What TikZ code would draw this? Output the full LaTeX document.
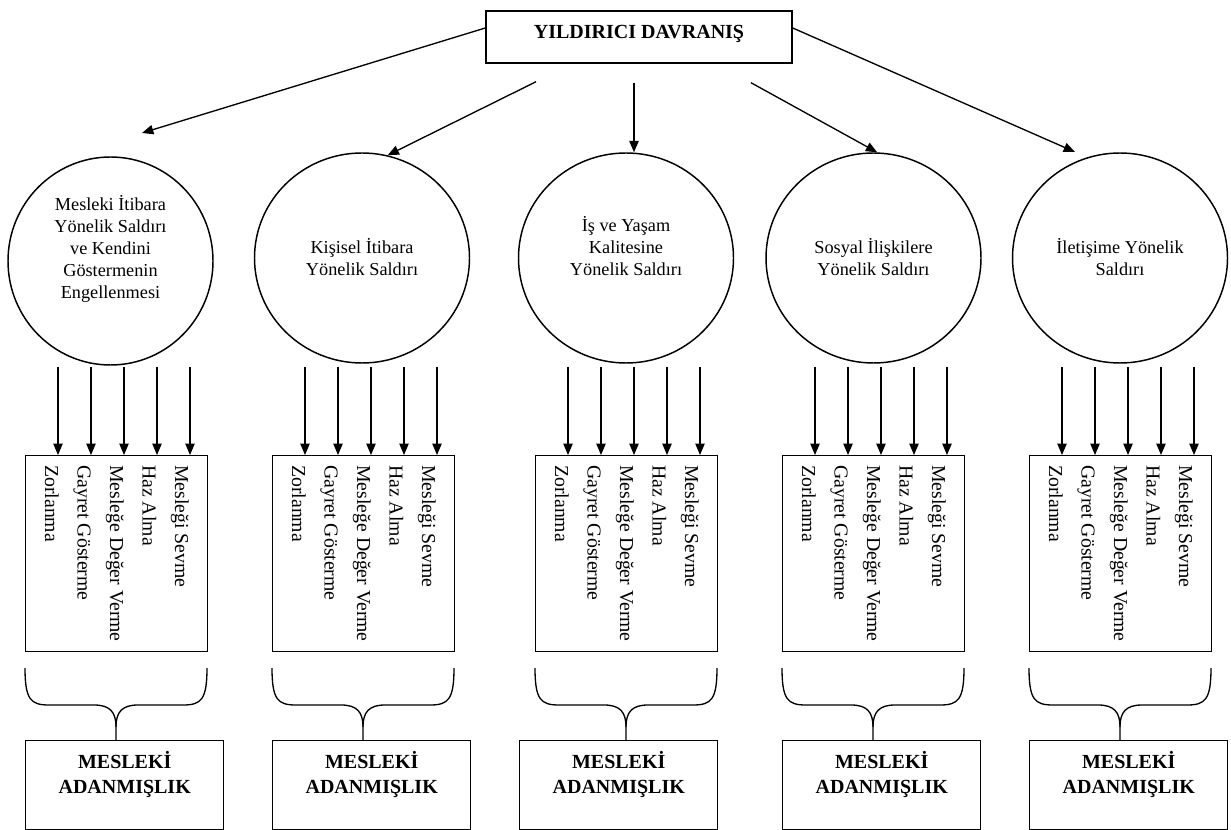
\documentclass[tikz,border=0pt]{standalone}
\usepackage{fontspec}
\setmainfont{Liberation Serif}
\usetikzlibrary{arrows.meta,calc,shapes.geometric}
\begin{document}
\begin{tikzpicture}[x=0.75pt,y=-0.75pt,
  arr/.style={-{Triangle[length=8.5pt,width=7pt]}, line width=0.8pt},
  tarr/.style={-{Triangle[length=8.5pt,width=7pt]}, line width=1pt},
  box/.style={draw, line width=1.1pt, inner sep=0pt},
  oval/.style={draw, ellipse, line width=1.1pt, inner sep=0pt},
  ctext/.style={align=center, font=\fontsize{13.7}{16.5}\selectfont, inner sep=0pt},
  vtext/.style={rotate=-90, anchor=base west, font=\fontsize{14.8}{17}\selectfont, inner sep=0pt},
  btext/.style={align=center, font=\fontsize{15}{18.75}\selectfont\bfseries, inner sep=0pt},
  bracestyle/.style={line width=1pt}]
\useasboundingbox (0,0) rectangle (1231,830);
\fill[white] (0,0) rectangle (1231,830);

% title
\node[box, minimum width=229.5pt, minimum height=39pt] (top) at (639,37) {};
\node[btext, anchor=base] (toptext) at (639,39) {YILDIRICI DAVRANIŞ};

% circles
\node[oval, minimum width=153.75pt, minimum height=156pt] (c1) at (110.5,261) {};
\node[oval, minimum width=161.25pt, minimum height=157.5pt] (c2) at (362,258) {};
\node[oval, minimum width=161.25pt, minimum height=157.5pt] (c3) at (626,258) {};
\node[oval, minimum width=161.25pt, minimum height=157.5pt] (c4) at (873.5,258) {};
\node[oval, minimum width=161.25pt, minimum height=157.5pt] (c5) at (1120,258) {};

\node[ctext] (t1) at (110.5,249) {Mesleki İtibara\\Yönelik Saldırı\\ve Kendini\\Göstermenin\\Engellenmesi};
\node[ctext] (t2) at (362,257) {Kişisel İtibara\\Yönelik Saldırı};
\node[ctext] (t3) at (626,246) {İş ve Yaşam\\Kalitesine\\Yönelik Saldırı};
\node[ctext] (t4) at (873.5,257) {Sosyal İlişkilere\\Yönelik Saldırı};
\node[ctext] (t5) at (1120,257) {İletişime Yönelik\\Saldırı};

% arrows from title
\coordinate (e1) at (142,133);
\coordinate (e5) at (1075,152);
\coordinate (a2) at ([xshift=-77.25pt,yshift=-13.5pt]top.south);
\coordinate (a3) at ([xshift=-3.75pt,yshift=-14.25pt]top.south);
\coordinate (a4) at ([xshift=84pt,yshift=-14.25pt]top.south);
\draw[tarr] ([yshift=6.75pt]top.west) -- (e1);
\draw[tarr] (a2) -- (c2.76);
\draw[tarr] (a3) -- (a3 |- c3.north);
\draw[tarr] (a4) -- (c4.88);
\draw[tarr] ([yshift=6.75pt]top.east) -- (e5);

% groups
\foreach \i/\L/\M in {1/25/25, 2/272/272, 3/535/519, 4/782/782, 5/1029/1029} {
  \node[box, minimum width=136.5pt, minimum height=147pt, anchor=north west] (b\i) at (\L,455) {};
  \foreach \t [count=\k from 0] in {Zorlanma, Gayret Gösterme, Mesleğe Değer Verme, Haz Alma, Mesleği Sevme}
    \node[vtext] (v\i-\k) at ({\L+20+32.5*\k},465) {\t};
  \foreach \k in {0,...,4}
    \draw[arr] ($(b\i.north west)+({33+33*\k},-88)$) -- ($(b\i.north west)+({33+33*\k},0)$);
  \draw[bracestyle] (\L,668) .. controls (\L,700) and ({\L+6},705) .. ({\L+24},705)
     -- ({\L+69},705) .. controls ({\L+85},705) and ({\L+91},712) .. ({\L+91},727) -- ({\L+91},740);
  \draw[bracestyle] ({\L+182},668) .. controls ({\L+182},700) and ({\L+176},705) .. ({\L+158},705)
     -- ({\L+113},705) .. controls ({\L+97},705) and ({\L+91},712) .. ({\L+91},727);
  \node[box, minimum width=148.5pt, minimum height=66.75pt, anchor=north west] (m\i) at (\M,740) {};
  \node[btext] (mt\i) at ($(m\i.north)+(0,34)$) {MESLEKİ\\ADANMIŞLIK};
}
\end{tikzpicture}
\end{document}
